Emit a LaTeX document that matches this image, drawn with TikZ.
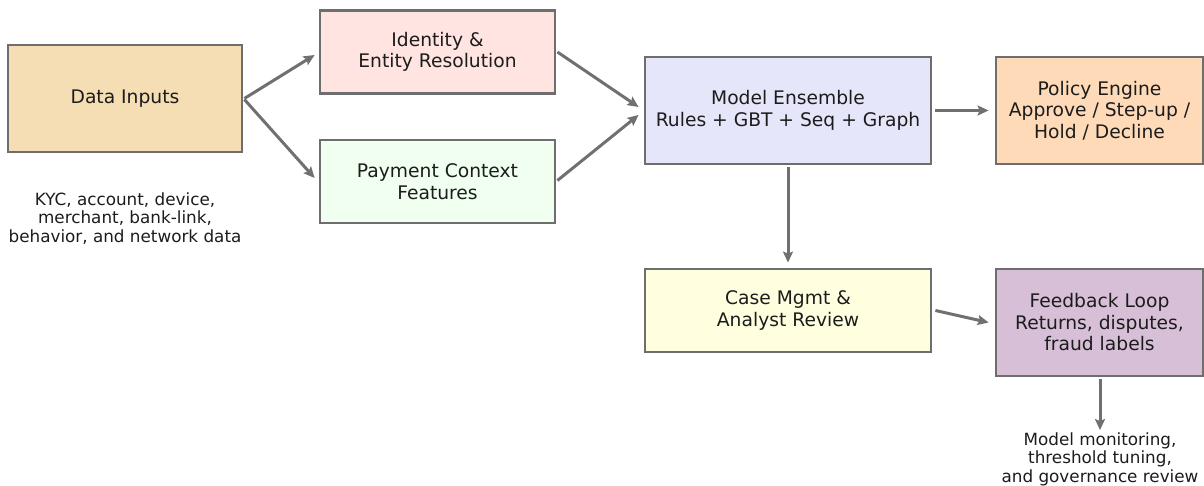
\documentclass[tikz,border=0pt]{standalone}
\usepackage{fontspec}
\setmainfont{DejaVu Sans}
\usetikzlibrary{arrows.meta,calc}
\definecolor{edgegray}{HTML}{6E6E6E}
\definecolor{arrgray}{HTML}{707070}
\definecolor{txt}{HTML}{1C1C1C}
\definecolor{cData}{HTML}{F5DEB3}
\definecolor{cIdent}{HTML}{FFE4E1}
\definecolor{cPay}{HTML}{F0FFF0}
\definecolor{cModel}{HTML}{E6E6FA}
\definecolor{cPolicy}{HTML}{FFDAB9}
\definecolor{cCase}{HTML}{FFFFE0}
\definecolor{cFeed}{HTML}{D8BFD8}
\tikzset{
  box/.style={draw=edgegray, line width=2.8pt, inner sep=0pt, align=center,
    text=txt, font=\fontsize{18.7}{21.5}\selectfont},
  note/.style={inner sep=0pt, align=center, text=txt, font=\fontsize{16.8}{18.6}\selectfont},
  conn/.style={draw=arrgray, line width=3pt, -{Stealth[length=11pt,width=10pt,inset=2pt]}}
}
\begin{document}
\begin{tikzpicture}[x=1pt,y=-1pt]
\useasboundingbox (0,0) rectangle (1204,486);
\node[box, fill=cData, minimum width=234pt, minimum height=107pt] (data) at (125,98.5) {Data Inputs};
\node[box, fill=cIdent, minimum width=235pt, minimum height=83pt] (ident) at (437.5,52) {Identity \&\\Entity Resolution};
\node[box, fill=cPay, minimum width=235pt, minimum height=83pt] (pay) at (437.5,181.5) {Payment Context\\Features};
\node[box, fill=cModel, minimum width=286pt, minimum height=107pt] (model) at (788,110.5) {Model Ensemble\\Rules + GBT + Seq + Graph};
\node[box, fill=cPolicy, minimum width=207pt, minimum height=107pt] (policy) at (1099.5,110.5) {Policy Engine\\Approve / Step-up /\\Hold / Decline};
\node[box, fill=cCase, minimum width=286pt, minimum height=83pt] (case) at (788,310.5) {Case Mgmt \&\\Analyst Review};
\node[box, fill=cFeed, minimum width=207pt, minimum height=107pt] (feed) at (1099.5,322.5) {Feedback Loop\\Returns, disputes,\\fraud labels};
\node[note] (kyc) at (125,218.5) {KYC, account, device,\\merchant, bank-link,\\behavior, and network data};
\node[note] (mon) at (1100,459) {Model monitoring,\\threshold tuning,\\and governance review};

\draw[conn] ($(data.east)+(1,0)$) -- ($(ident.west)+(-4,3)$);
\draw[conn] ($(data.east)+(1,1)$) -- ($(pay.west)+(-4,-3.5)$);
\draw[conn] ($(ident.east)+(1,0)$) -- ($(model.west)+(-5,-3.5)$);
\draw[conn] ($(pay.east)+(1,-1)$) -- ($(model.west)+(-5,4.5)$);
\draw[conn] ($(model.east)+(3,0)$) -- ($(policy.west)+(-6,0)$);
\draw[conn] ($(model.south)+(0,2)$) -- ($(case.north)+(0,-5)$);
\draw[conn] ($(case.east)+(3,0)$) -- ($(feed.west)+(-6,0)$);
\draw[conn] ($(feed.south)+(0.5,2)$) -- ($(mon.north)+(0,-2)$);
\end{tikzpicture}
\end{document}
